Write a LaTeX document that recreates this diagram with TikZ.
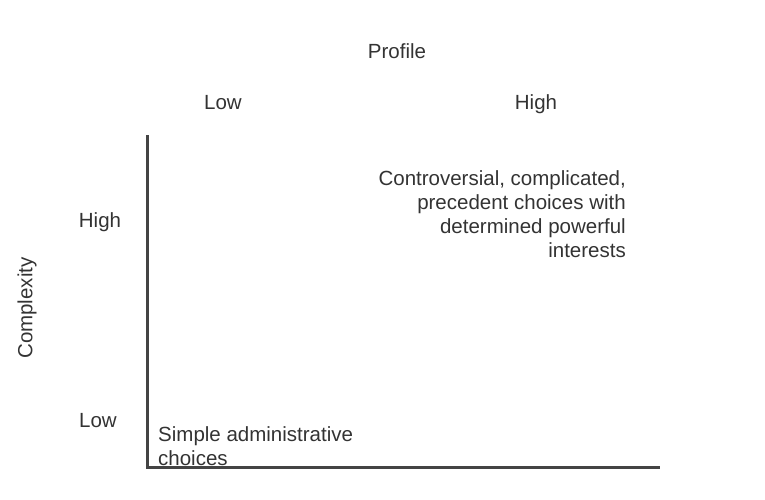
\documentclass[tikz,border=0pt]{standalone}
\usepackage{fontspec}
\setmainfont{Liberation Sans}
\definecolor{ink}{HTML}{333333}
\definecolor{axis}{HTML}{444444}
\begin{document}
\begin{tikzpicture}[x=1pt,y=-1pt,
  lbl/.style={font=\fontsize{20.5}{24}\selectfont, text=ink, inner sep=0pt},
  axisline/.style={draw=axis, line width=3pt}]
\useasboundingbox (0,0) rectangle (765,500);
\coordinate (top) at (147,135);
\coordinate (origin) at (147,467);
\coordinate (right) at (660,467);
\draw[axisline] (top) -- (origin) -- (right);
\node[lbl, anchor=base] (profile) at (397,59) {Profile};
\node[lbl, anchor=base] (plow) at (223,110) {Low};
\node[lbl, anchor=base] (phigh) at (536,110) {High};
\node[lbl, anchor=base] (chigh) at (100,227) {High};
\node[lbl, anchor=base] (clow) at (98,427) {Low};
\node[lbl, rotate=90] (complexity) at (27,308) {Complexity};
\node[lbl, align=right, anchor=north east] (contro) at (626,170) {Controversial, complicated,\\precedent choices with\\determined powerful\\interests};
\node[lbl, align=left, anchor=north west] (simple) at (158,426) {Simple administrative\\choices};
\end{tikzpicture}
\end{document}
